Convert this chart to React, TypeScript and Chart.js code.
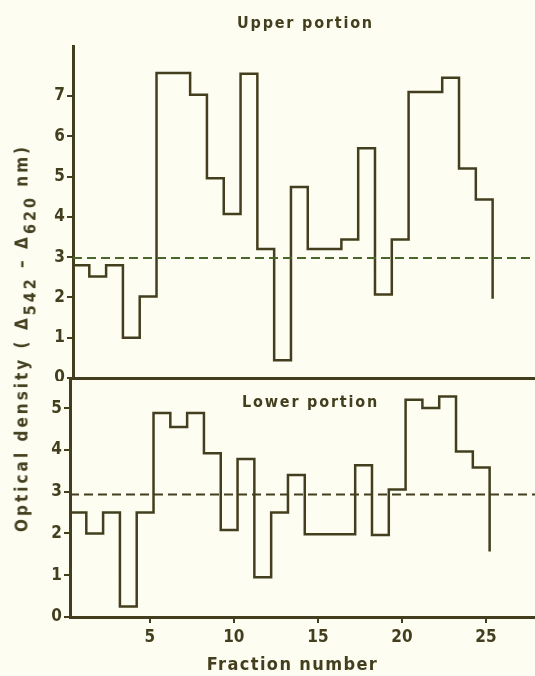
import React, { useEffect, useRef } from 'react';
import { Chart, registerables } from 'chart.js';

Chart.register(...registerables);

// ---- data ----
const fractions = [1, 2, 3, 4, 5, 6, 7, 8, 9, 10, 11, 12, 13, 14, 15, 16, 17, 18, 19, 20, 21, 22, 23, 24, 25];
const upperValues = [2.8, 2.52, 2.8, 1.0, 2.02, 7.57, 7.57, 7.03, 4.96, 4.07, 7.55, 3.2, 0.44, 4.74, 3.2, 3.2, 3.44, 5.7, 2.07, 3.44, 7.1, 7.1, 7.45, 5.2, 4.43];
const upperEnd = 1.97;
const upperRef = 2.98;
const lowerValues = [2.5, 2.0, 2.5, 0.25, 2.5, 4.88, 4.55, 4.88, 3.92, 2.08, 3.78, 0.95, 2.5, 3.4, 1.98, 1.98, 1.98, 3.63, 1.96, 3.05, 5.2, 5.0, 5.28, 3.96, 3.58];
const lowerEnd = 1.57;
const lowerRef = 2.93;
const upperYTicks = [0, 1, 2, 3, 4, 5, 6, 7];
const lowerYTicks = [0, 1, 2, 3, 4, 5];
const xTicks = [5, 10, 15, 20, 25];
const upperTitle = 'Upper portion';
const lowerTitle = 'Lower portion';
const xTitle = 'Fraction number';

// ---- style ----
const INK = '#433f1e';
const BG = '#fdfdf2';
const FONT_C = "'DejaVu Sans Condensed', 'DejaVu Sans', sans-serif";
const X_MIN = 0.25;
const X_MAX = 27.92;
const STEP_START = 0.78; // each fraction drawn from n-0.78 to n+0.22

function stepPoints(values: number[], end: number) {
  const pts = fractions.map((f, i) => ({ x: f - STEP_START, y: values[i] }));
  const last = fractions[fractions.length - 1];
  pts.push({ x: last + (1 - STEP_START), y: end });
  return pts;
}

const refLinePlugin = {
  id: 'refLine',
  afterDatasetsDraw(chart: any, _args: any, opts: any) {
    const { ctx, chartArea } = chart;
    const y = chart.scales.y.getPixelForValue(opts.value);
    ctx.save();
    ctx.beginPath();
    ctx.setLineDash(opts.dash);
    ctx.lineWidth = opts.width;
    ctx.strokeStyle = opts.color;
    ctx.moveTo(chartArea.left, y);
    ctx.lineTo(chartArea.right + 10, y);
    ctx.stroke();
    ctx.restore();
  },
};

const textPlugin = {
  id: 'panelText',
  afterDraw(chart: any, _args: any, opts: any) {
    const { ctx, chartArea } = chart;
    ctx.save();
    (opts.items || []).forEach((it: any) => {
      ctx.font = it.font;
      ctx.fillStyle = INK;
      try { (ctx as any).letterSpacing = it.spacing; } catch (e) {}
      ctx.textAlign = 'center';
      ctx.textBaseline = 'middle';
      const cx = (chartArea.left + chartArea.right) / 2 + it.dx;
      const y = it.from === 'bottom' ? chartArea.bottom + it.dy : chartArea.top + it.dy;
      ctx.fillText(it.text, cx, y);
    });
    ctx.restore();
  },
};

function fixTicks(list: number[]) {
  return (scale: any) => {
    scale.ticks = list.map((v) => ({ value: v }));
  };
}

function zeroPad(width?: number, height?: number) {
  return (scale: any) => {
    if (width !== undefined) scale.width = width;
    if (height !== undefined) scale.height = height;
    scale.paddingTop = 0;
    scale.paddingBottom = 0;
    scale.paddingLeft = 0;
    scale.paddingRight = 0;
  };
}

function makeConfig(opts: {
  values: number[];
  end: number;
  ref: number;
  refColor: string;
  yMax: number;
  yTicks: number[];
  showX: boolean;
  xHeight: number;
  padTop: number;
  texts: any[];
}): any {
  const tickFont = { family: FONT_C, size: 17, weight: 'bold' };
  return {
    type: 'line',
    data: {
      datasets: [
        {
          data: stepPoints(opts.values, opts.end),
          stepped: 'before',
          borderColor: INK,
          borderWidth: 2.5,
          pointRadius: 0,
          fill: false,
        },
      ],
    },
    options: {
      animation: false,
      responsive: false,
      layout: { padding: { top: opts.padTop, left: 0, right: 0, bottom: 0 } },
      plugins: {
        legend: { display: false },
        tooltip: { enabled: false },
        refLine: { value: opts.ref, dash: [9, 5], width: 2, color: opts.refColor },
        panelText: { items: opts.texts },
      },
      scales: {
        x: {
          type: 'linear',
          min: X_MIN,
          max: X_MAX,
          afterBuildTicks: fixTicks(xTicks),
          afterFit: zeroPad(undefined, opts.xHeight),
          border: { display: true, color: INK, width: 3 },
          grid: {
            display: opts.showX,
            drawOnChartArea: false,
            drawTicks: true,
            tickLength: 6,
            color: INK,
            lineWidth: 2,
          },
          ticks: {
            display: opts.showX,
            color: INK,
            padding: 4,
            maxRotation: 0,
            font: tickFont,
          },
        },
        y: {
          type: 'linear',
          min: 0,
          max: opts.yMax,
          afterBuildTicks: fixTicks(opts.yTicks),
          afterFit: zeroPad(70, undefined),
          border: { display: true, color: INK, width: 3 },
          grid: {
            display: true,
            drawOnChartArea: false,
            drawTicks: true,
            tickLength: 6,
            color: INK,
            lineWidth: 2,
          },
          ticks: {
            color: INK,
            padding: 2,
            font: tickFont,
          },
        },
      },
    },
    plugins: [refLinePlugin, textPlugin],
  };
}

function Panel(props: { config: any; width: number; height: number; style: React.CSSProperties }) {
  const ref = useRef<HTMLCanvasElement | null>(null);
  useEffect(() => {
    if (!ref.current) return;
    const chart = new Chart(ref.current, props.config);
    return () => chart.destroy();
  }, []);
  return (
    <canvas
      ref={ref}
      width={props.width}
      height={props.height}
      style={{ position: 'absolute', width: props.width, height: props.height, ...props.style }}
    />
  );
}

export default function App() {
  const upperConfig = makeConfig({
    values: upperValues,
    end: upperEnd,
    ref: upperRef,
    refColor: '#4a6628',
    yMax: 8.24,
    yTicks: upperYTicks,
    showX: false,
    xHeight: 3,
    padTop: 46,
    texts: [{ text: upperTitle, font: `bold 16px ${FONT_C}`, spacing: '1.8px', dx: 0, dy: -22, from: 'top' }],
  });
  const lowerConfig = makeConfig({
    values: lowerValues,
    end: lowerEnd,
    ref: lowerRef,
    refColor: INK,
    yMax: 5.72,
    yTicks: lowerYTicks,
    showX: true,
    xHeight: 59,
    padTop: 0,
    texts: [
      { text: lowerTitle, font: `bold 16px ${FONT_C}`, spacing: '1.8px', dx: 8, dy: 25, from: 'top' },
      { text: xTitle, font: `bold 18px ${FONT_C}`, spacing: '1.4px', dx: -10, dy: 48, from: 'bottom' },
    ],
  });

  return (
    <div
      style={{
        position: 'fixed',
        left: 0,
        top: 0,
        width: 535,
        height: 676,
        overflow: 'hidden',
        background: BG,
      }}
    >
      <Panel config={upperConfig} width={535} height={381} style={{ left: 3, top: 0 }} />
      <Panel config={lowerConfig} width={535} height={298} style={{ left: 0, top: 378 }} />
      <div
        style={{
          position: 'absolute',
          left: 22,
          top: 338,
          transform: 'translate(-50%, -50%) rotate(-90deg)',
          whiteSpace: 'nowrap',
          fontFamily: FONT_C,
          fontWeight: 'bold',
          fontSize: 17,
          letterSpacing: '3px',
          color: INK,
          lineHeight: '20px',
        }}
      >
        Optical density ( Δ
        <span style={{ fontSize: 16, position: 'relative', top: 8 }}>542</span>
        {' – Δ'}
        <span style={{ fontSize: 16, position: 'relative', top: 8 }}>620</span>
        {' nm)'}
      </div>
    </div>
  );
}
